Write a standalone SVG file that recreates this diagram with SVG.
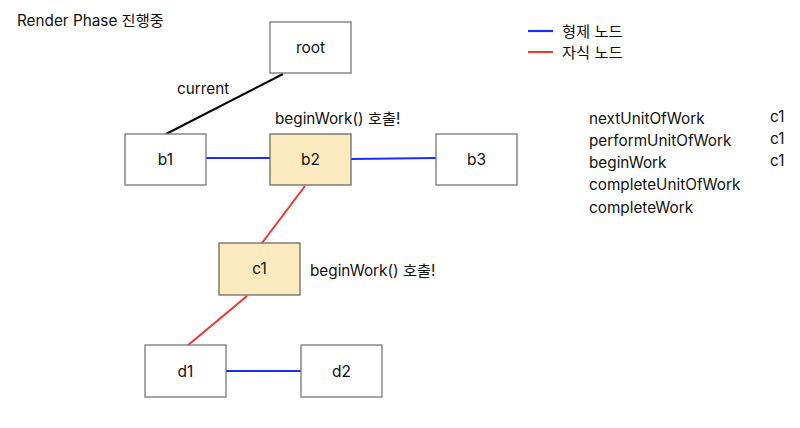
<svg xmlns="http://www.w3.org/2000/svg" width="800" height="428" viewBox="0 0 800 428">
<style>
text{font-family:Inter,"Noto Sans CJK KR","Noto Sans",sans-serif;fill:#111;font-size:15.3px}
.n rect{fill:#fff;stroke:#777;stroke-width:1.3}
.n.a rect{fill:#fbeac0;stroke:#6e6a5e}
.n text{font-size:15.5px;text-anchor:middle}
.blue{stroke:#1a2cff;stroke-width:2.2}
.red{stroke:#f0362a;stroke-width:2}
.blk{stroke:#000;stroke-width:2}
</style>
<rect width="800" height="428" fill="#fff"/>
<text x="17" y="26">Render Phase 진행중</text>
<g id="connectors">
<line class="blk" x1="283" y1="74" x2="166" y2="134"/>
<line class="blue" x1="206" y1="158" x2="270" y2="158"/>
<line class="blue" x1="351" y1="159" x2="436" y2="158"/>
<line class="red" x1="305" y1="186" x2="262" y2="243"/>
<line class="red" x1="247" y1="296" x2="187" y2="346"/>
<line class="blue" x1="226" y1="371" x2="301" y2="371"/>
</g>
<text x="177" y="94">current</text>
<text x="275" y="124">beginWork() 호출!</text>
<text x="310" y="276">beginWork() 호출!</text>
<g id="root" class="n"><rect x="270" y="22" width="81" height="51"/><text x="310.5" y="53">root</text></g>
<g id="b1" class="n"><rect x="125" y="134" width="81" height="51"/><text x="165.5" y="165">b1</text></g>
<g id="b2" class="n a"><rect x="270" y="134" width="81" height="51"/><text x="310.5" y="165">b2</text></g>
<g id="b3" class="n"><rect x="436" y="134" width="81" height="51"/><text x="476.5" y="165">b3</text></g>
<g id="c1" class="n a"><rect x="219" y="243" width="81" height="52"/><text x="259.5" y="274">c1</text></g>
<g id="d1" class="n"><rect x="145" y="345" width="81" height="52"/><text x="185.5" y="377">d1</text></g>
<g id="d2" class="n"><rect x="301" y="345" width="81" height="52"/><text x="341.5" y="377">d2</text></g>
<g id="legend">
<line class="blue" x1="528" y1="31" x2="553" y2="31"/>
<line class="red" x1="528" y1="52" x2="553" y2="52"/>
<text x="562" y="37">형제 노드</text>
<text x="562" y="58">자식 노드</text>
</g>
<g id="list">
<text x="589" y="124">nextUnitOfWork</text>
<text x="589" y="146">performUnitOfWork</text>
<text x="589" y="168">beginWork</text>
<text x="589" y="190">completeUnitOfWork</text>
<text x="589" y="213">completeWork</text>
<text x="770" y="122">c1</text>
<text x="770" y="144">c1</text>
<text x="770" y="166">c1</text>
</g>
</svg>
